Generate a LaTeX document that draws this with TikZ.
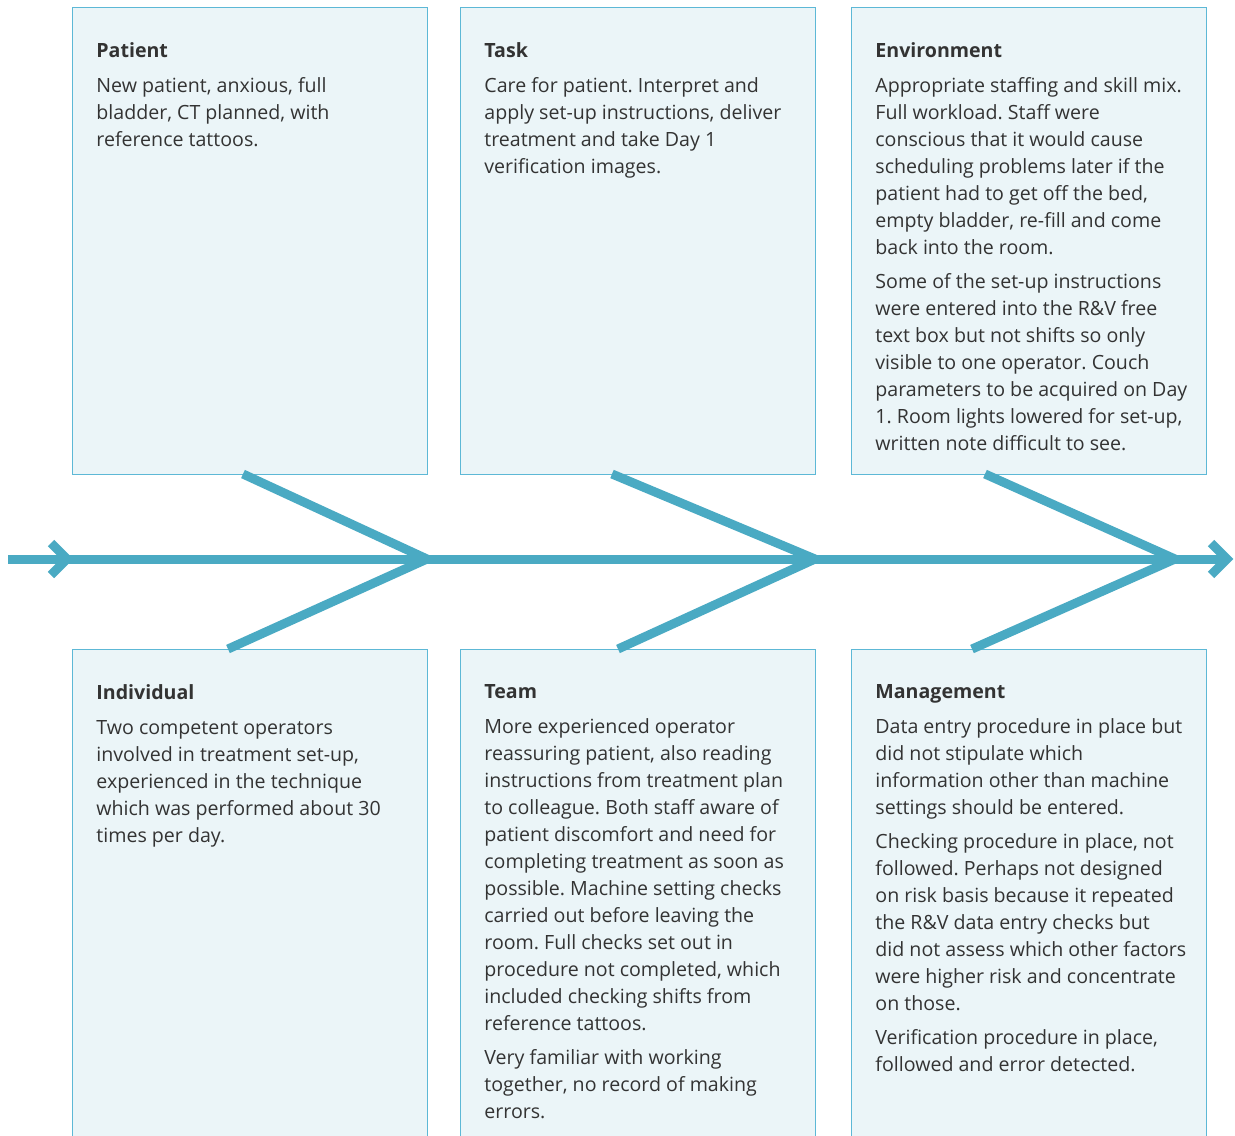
\documentclass[tikz,border=0pt]{standalone}
\usepackage{fontspec}
\setmainfont{Open Sans}
\usetikzlibrary{positioning}
\definecolor{fishblue}{HTML}{4AAAC3}
\definecolor{boxfill}{HTML}{EBF5F8}
\definecolor{boxline}{HTML}{5DB8D6}
\definecolor{txtgray}{HTML}{333333}
\tikzset{
  box/.style={draw=boxline, fill=boxfill, line width=0.7pt, minimum width=177.5pt,
    minimum height=233.5pt, inner sep=0pt, anchor=north west},
  lowbox/.style={box, minimum height=246pt},
  txt/.style={anchor=north west, inner sep=0pt, align=left, text=txtgray,
    font=\fontsize{9.8}{13.5}\selectfont\frenchspacing},
  bone/.style={fishblue, line width=4.5pt},
  chevron/.style={fishblue, line width=4.5pt, miter limit=10},
}

\begin{document}
\begin{tikzpicture}[x=0.5pt,y=-0.5pt]
\useasboundingbox (0,0) rectangle (1235,1135);
\clip (0,0) rectangle (1235,1135);

% Boxes
\node[box] (patient) at (72,7) {};
\node[box] (task) at (460,7) {};
\node[box] (environment) at (851,7) {};
\node[lowbox] (individual) at (72,649) {};
\node[lowbox] (team) at (460,649) {};
\node[lowbox] (management) at (851,649) {};

% Spine and bones
\coordinate (tail) at (8,559);
\coordinate (head) at (1228,559);
\coordinate (j1) at (427,559);
\coordinate (j2) at (815,559);
\coordinate (j3) at (1175,559);
\coordinate (b1) at (243,474);
\coordinate (b2) at (612,474);
\coordinate (b3) at (985,474);
\coordinate (c1) at (228,649);
\coordinate (c2) at (618,649);
\coordinate (c3) at (972,649);

\draw[bone] (tail) -- (head);
\draw[bone] (b1) -- (j1) -- (c1);
\draw[bone] (b2) -- (j2) -- (c2);
\draw[bone] (b3) -- (j3) -- (c3);
\draw[chevron] (51,543) -- (67,559) -- (51,575);
\draw[chevron] (1211,543) -- (1227,559) -- (1211,575);

% Texts
\node[txt] (patienttxt) at (96,42) {\textbf{Patient}\\[4pt]
New patient, anxious, full\\
bladder, CT planned, with\\
reference tattoos.};
\node[txt] (tasktxt) at (484,42) {\textbf{Task}\\[4pt]
Care for patient. Interpret and\\
apply set-up instructions, deliver\\
treatment and take Day 1\\
verification images.};
\node[txt] (environmenttxt) at (875,42) {\textbf{Environment}\\[4pt]
Appropriate staffing and skill mix.\\
Full workload. Staff were\\
conscious that it would cause\\
scheduling problems later if the\\
patient had to get off the bed,\\
empty bladder, re-fill and come\\
back into the room.\\[3.5pt]
Some of the set-up instructions\\
were entered into the R\&V free\\
text box but not shifts so only\\
visible to one operator. Couch\\
parameters to be acquired on Day\\
1. Room lights lowered for set-up,\\
written note difficult to see.};
\node[txt] (individualtxt) at (96,684) {\textbf{Individual}\\[4pt]
Two competent operators\\
involved in treatment set-up,\\
experienced in the technique\\
which was performed about 30\\
times per day.};
\node[txt] (teamtxt) at (484,684) {\textbf{Team}\\[4pt]
More experienced operator\\
reassuring patient, also reading\\
instructions from treatment plan\\
to colleague. Both staff aware of\\
patient discomfort and need for\\
completing treatment as soon as\\
possible. Machine setting checks\\
carried out before leaving the\\
room. Full checks set out in\\
procedure not completed, which\\
included checking shifts from\\
reference tattoos.\\[3.5pt]
Very familiar with working\\
together, no record of making\\
errors.};
\node[txt] (managementtxt) at (875,684) {\textbf{Management}\\[4pt]
Data entry procedure in place but\\
did not stipulate which\\
information other than machine\\
settings should be entered.\\[3.5pt]
Checking procedure in place, not\\
followed. Perhaps not designed\\
on risk basis because it repeated\\
the R\&V data entry checks but\\
did not assess which other factors\\
were higher risk and concentrate\\
on those.\\[3.5pt]
Verification procedure in place,\\
followed and error detected.};
\end{tikzpicture}
\end{document}
